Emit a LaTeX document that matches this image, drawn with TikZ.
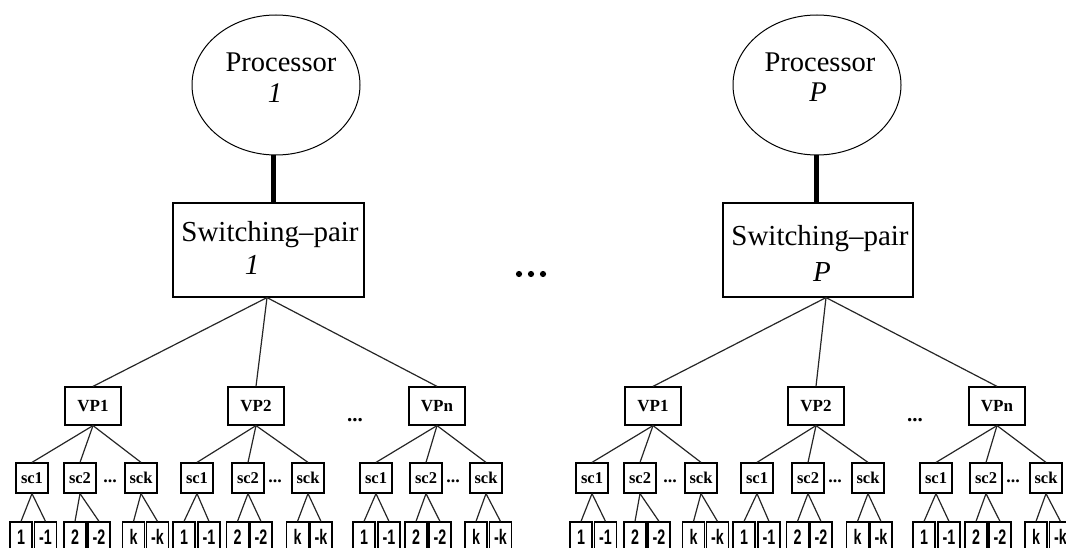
\documentclass[tikz,border=0pt]{standalone}
\usepackage{fontspec}
\setmainfont{Liberation Serif}
\newfontfamily\leaffont{Liberation Sans}
\usetikzlibrary{shapes.geometric}

\tikzset{
  wire/.style={line width=1.2pt, black!85},
  bus/.style={line width=5pt, black},
  procnode/.style={draw, ellipse, line width=1pt, minimum width=168pt, minimum height=140pt, inner sep=0pt},
  swbox/.style={draw, rectangle, line width=1.2pt, minimum height=94pt, inner sep=0pt},
  bigtxt/.style={inner sep=0pt, anchor=base, font=\fontsize{28.5}{31}\selectfont},
  swtxt/.style={inner sep=0pt, anchor=base, font=\fontsize{29}{32}\selectfont},
  vpbox/.style={draw, rectangle, line width=1.2pt, minimum width=56pt, minimum height=38pt, inner sep=0pt,
    font=\fontsize{17}{18}\selectfont\bfseries},
  scbox/.style={draw, rectangle, line width=1.2pt, minimum width=32pt, minimum height=30pt, inner sep=0pt,
    font=\fontsize{16.5}{18}\selectfont\bfseries},
  leafbox/.style={draw, rectangle, line width=1.2pt, minimum width=22pt, minimum height=30pt, inner sep=0pt,
    font=\leaffont\fontsize{21}{22}\selectfont\bfseries},
  dotstxt/.style={inner sep=0pt, anchor=base, font=\fontsize{18}{20}\selectfont\bfseries},
  bigdots/.style={inner sep=0pt, anchor=base, font=\fontsize{21}{22}\selectfont\bfseries},
}

\begin{document}
\begin{tikzpicture}[x=1pt, y=-1pt]
\useasboundingbox (0,0) rectangle (1066,548);
\clip (0,0) rectangle (1066,548);

% ---- processor 1 and its switching pair
\node[procnode] (p1) at (276,85) {};
\node[bigtxt] (p1a) at (281,72) {Processor};
\node[bigtxt] (p1b) at (275,103) {\textit{1}};
\node[swbox, minimum width=191pt] (s1) at (268.5,250) {};
\node[swtxt] (s1a) at (270,242) {Switching–pair};
\node[swtxt] (s1b) at (252,275) {\textit{1}};
\draw[bus] ([xshift=-3pt]p1.south) -- ([xshift=-3pt]p1.south |- s1.north);
\coordinate (jL) at ([xshift=-1.5pt]s1.south);

% ---- processor P and its switching pair
\node[procnode] (p2) at (817,85) {};
\node[bigtxt] (p2a) at (820,72) {Processor};
\node[bigtxt] (p2b) at (818,102) {\textit{P}};
\node[swbox, minimum width=190pt] (s2) at (818,250) {};
\node[swtxt] (s2a) at (820,246) {Switching–pair};
\node[swtxt] (s2b) at (822,281) {\textit{P}};
\draw[bus] ([xshift=-1pt]p2.south) -- ([xshift=-1pt]p2.south |- s2.north);
\coordinate (jR) at ([xshift=8pt]s2.south);

% ---- ellipsis between the two processors
\foreach \dx in {519,531,543}
  \fill (\dx,274) circle (3.1pt);

% ---- the two virtual-processor trees
\foreach \g/\off in {L/0, R/560}{
  \begin{scope}[xshift=\off pt]
    \node[vpbox] (\g-vp1) at (93,406)  {VP1};
    \node[vpbox] (\g-vp2) at (256,406) {VP2};
    \node[vpbox] (\g-vpn) at (437,406) {VPn};
    \node[bigdots] (\g-vdots) at (355,421) {...};
    \foreach \v in {vp1,vp2,vpn}
      \draw[wire] (j\g) -- (\g-\v.north);

    \foreach \s/\x/\t/\v/\la/\lb/\k in {
        a/32/sc1/vp1/21/45.5/1, b/80/sc2/vp1/75/99/2, c/141/sck/vp1/133.5/157.5/k,
        d/197/sc1/vp2/184/209/1, e/248/sc2/vp2/237.5/261/2, f/308/sck/vp2/297.5/321/k,
        g/376/sc1/vpn/364/389/1, h/426/sc2/vpn/416/440/2, i/486/sck/vpn/476/500.5/k}{
      \node[scbox] (\g-\s) at (\x,478) {\t};
      \draw[wire] (\g-\v.south) -- (\g-\s.north);
      \node[leafbox] (\g-\s l) at (\la,537) {\scalebox{0.68}[1]{\k}};
      \node[leafbox] (\g-\s r) at (\lb,537) {\scalebox{0.68}[1]{-\k}};
      \draw[wire] (\g-\s.south) -- (\g-\s l.north);
      \draw[wire] (\g-\s.south) -- (\g-\s r.north);
    }
    \node[dotstxt] (\g-sd1) at (110,482) {...};
    \node[dotstxt] (\g-sd2) at (275,482) {...};
    \node[dotstxt] (\g-sd3) at (453,482) {...};
  \end{scope}
}
\end{tikzpicture}
\end{document}
